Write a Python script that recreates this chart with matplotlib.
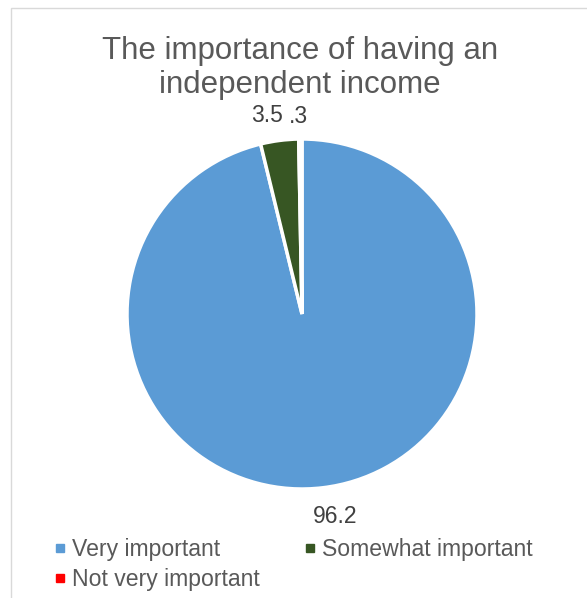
import numpy as np
import matplotlib
matplotlib.use("Agg")
import matplotlib.pyplot as plt
from matplotlib.lines import Line2D
from matplotlib.patches import Rectangle

plt.rcParams['font.family'] = ['Liberation Sans', 'DejaVu Sans']

# data
categories = ["Very important", "Somewhat important", "Not very important"]
values = [96.2, 3.5, 0.3]
colors = ["#5B9BD5", "#375623", "#FF0000"]
title = "The importance of having an\nindependent income"

# label placement tweaks (radius factor, angle nudge in degrees)
label_r = [1.17, 1.15, 1.13]
label_nudge = [2.5, 2.5, 0.4]

W, H = 587, 598
fig = plt.figure(figsize=(W / 100, H / 100), dpi=100)

# light grey chart frame
fig.add_artist(Rectangle((10.5 / W, -0.1), 1.2, 1 - 7.5 / H + 0.1,
                         transform=fig.transFigure, fill=False,
                         edgecolor="#d9d9d9", linewidth=1.0))

# pie axes: centre (302, 314) px from top-left, radius 175 px
cx, cy, R = 302, H - 314, 175
ax = fig.add_axes([(cx - R) / W, (cy - R) / H, 2 * R / W, 2 * R / H])

wedges, _ = ax.pie(values, colors=colors, startangle=90, counterclock=False,
                   radius=1.0,
                   wedgeprops=dict(edgecolor="white", linewidth=2.5))
ax.set_xlim(-1, 1)
ax.set_ylim(-1, 1)
ax.set_aspect("equal")
ax.axis("off")

for w, v, r, dn in zip(wedges, values, label_r, label_nudge):
    ang = np.deg2rad((w.theta1 + w.theta2) / 2 + dn)
    txt = ("%.1f" % v).lstrip("0")
    ax.text(r * np.cos(ang), r * np.sin(ang), txt, ha="center", va="center",
            fontsize=16.5, color="#404040", clip_on=False)

fig.text(300 / W, 1 - 68 / H, title, ha="center", va="center",
         fontsize=22.5, color="#595959", linespacing=1.14)

# legend: order so column 1 holds Very / Not very, column 2 Somewhat
order = [0, 2, 1]
handles = [Line2D([], [], marker="s", linestyle="none", markersize=6,
                  markerfacecolor=colors[i], markeredgecolor=colors[i])
           for i in order]
labels = [categories[i] for i in order]
fig.legend(handles, labels, ncol=2, loc="upper left",
           bbox_to_anchor=(54 / W, 1 - 538 / H), frameon=False,
           fontsize=16.6, labelcolor="#595959", handlelength=0.5,
           handletextpad=0.3, columnspacing=1.9, labelspacing=0.3,
           borderpad=0, borderaxespad=0)

fig.savefig("out.png", dpi=100)
